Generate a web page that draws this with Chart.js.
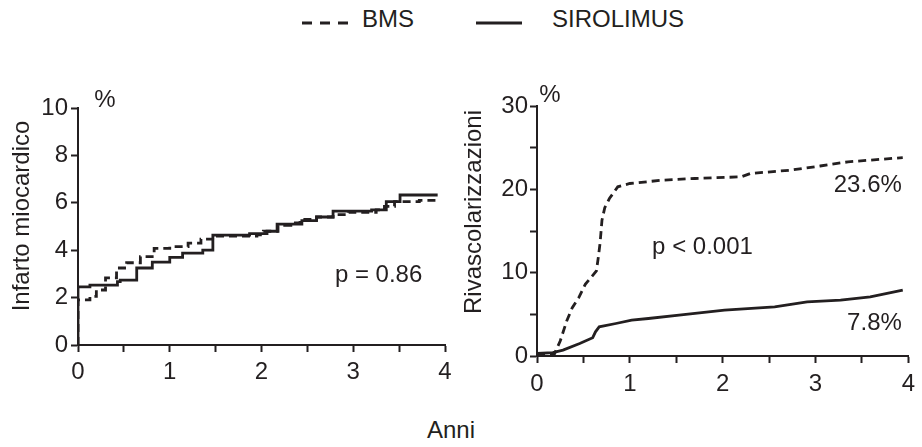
<!DOCTYPE html>
<html>
<head>
<meta charset="utf-8">
<script src="https://cdn.jsdelivr.net/npm/chart.js@4/dist/chart.umd.min.js"></script>
<style>
  html, body { margin: 0; padding: 0; background: #fff; }
  #wrap { position: relative; width: 922px; height: 447px; font-family: "Liberation Sans", Arial, sans-serif; color: #231f20; }
  #wrap canvas { position: absolute; top: 0; }
  .lbl { position: absolute; font-size: 24px; line-height: 24px; white-space: nowrap; }
</style>
</head>
<body>
<div id="wrap">
  <svg width="922" height="40" style="position:absolute;left:0;top:0">
    <line x1="302" y1="23" x2="350" y2="23" stroke="#231f20" stroke-width="3" stroke-dasharray="10 8"/>
    <line x1="476" y1="23" x2="522" y2="23" stroke="#231f20" stroke-width="3"/>
  </svg>
  <span class="lbl" style="left:362px;top:7px">BMS</span>
  <span class="lbl" style="left:552px;top:7px">SIROLIMUS</span>
  <span class="lbl" style="left:427px;top:418px">Anni</span>
  <canvas id="miChart" width="461" height="447" style="left:0"></canvas>
  <canvas id="revChart" width="461" height="447" style="left:461px"></canvas>
</div>
<script>
const INK = '#231f20';
const FONT = { family: '"Liberation Sans", Arial, sans-serif', size: 24 };

// Infarto miocardico (Kaplan-Meier steps: value holds from x onward)
const miBmsX = [0, 0, 0.13, 0.2, 0.3, 0.42, 0.53, 0.68, 0.83, 1.0, 1.2, 1.34, 1.49, 1.95, 2.02, 2.18, 2.32, 2.42, 2.6, 2.78, 2.95, 3.25, 3.34, 3.45, 3.72, 3.93];
const miBmsY = [0, 1.9, 2.05, 2.32, 2.83, 3.25, 3.47, 3.73, 4.08, 4.15, 4.3, 4.47, 4.6, 4.65, 4.8, 5.05, 5.15, 5.3, 5.4, 5.5, 5.6, 5.7, 5.85, 6.05, 6.1, 6.1];
const miSirX = [0, 0, 0.13, 0.43, 0.46, 0.64, 0.81, 1.0, 1.14, 1.36, 1.47, 1.87, 2.06, 2.17, 2.44, 2.6, 2.78, 3.2, 3.36, 3.51, 3.92];
const miSirY = [0, 2.45, 2.53, 2.67, 2.74, 3.25, 3.5, 3.7, 3.88, 4.0, 4.64, 4.7, 4.8, 5.1, 5.25, 5.4, 5.65, 5.7, 6.05, 6.33, 6.33];

// Rivascolarizzazioni
const revBmsX = [0, 0.19, 0.25, 0.32, 0.38, 0.45, 0.52, 0.58, 0.64, 0.66, 0.68, 0.7, 0.73, 0.78, 0.87, 1.0, 1.35, 1.7, 2.2, 2.3, 2.73, 3.05, 3.35, 3.7, 3.94];
const revBmsY = [0.3, 0.3, 1.8, 4.2, 5.8, 7.0, 8.6, 9.4, 10.2, 11.8, 13.6, 16.3, 17.8, 18.9, 20.3, 20.7, 21.1, 21.3, 21.5, 21.9, 22.3, 22.8, 23.3, 23.6, 23.8];
const revSirX = [0, 0.17, 0.28, 0.46, 0.6, 0.63, 0.67, 0.85, 1.02, 1.2, 1.53, 2.02, 2.56, 2.91, 3.27, 3.59, 3.94];
const revSirY = [0.3, 0.4, 0.7, 1.5, 2.2, 2.9, 3.5, 3.9, 4.3, 4.5, 4.9, 5.5, 5.9, 6.5, 6.7, 7.1, 7.9];

const pts = (xs, ys) => xs.map((x, i) => ({ x: x, y: ys[i] }));

// text drawn on top of each panel
const notesPlugin = {
  id: 'notes',
  afterDraw(chart, args, opts) {
    const ctx = chart.ctx, area = chart.chartArea;
    const xs = chart.scales.x, ys = chart.scales.y;
    ctx.save();
    ctx.fillStyle = INK;
    ctx.font = '24px ' + FONT.family;
    ctx.textBaseline = 'middle';
    ctx.textAlign = 'center';
    ctx.fillText('%', area.left + opts.pctDx, area.top - opts.pctDy);
    ctx.save();
    ctx.translate(opts.titleX, opts.titleY);
    ctx.rotate(-Math.PI / 2);
    ctx.fillText(opts.title, 0, 0);
    ctx.restore();
    opts.items.forEach(n => {
      ctx.textAlign = n.align;
      ctx.fillText(n.text, xs.getPixelForValue(n.x), ys.getPixelForValue(n.y));
    });
    ctx.restore();
  }
};

function xAxis(pad) {
  return {
    type: 'linear', min: 0, max: 4,
    ticks: {
      stepSize: 0.5, autoSkip: false, maxRotation: 0, padding: pad, color: INK, font: FONT,
      callback: v => Number.isInteger(v) ? v : ''
    },
    grid: { drawOnChartArea: false, tickLength: 7, tickWidth: 2, tickColor: INK },
    border: { color: INK, width: 2 },
    afterFit: s => { s.height = 50; }
  };
}

function yAxis(max, step, every, w, pad) {
  return {
    min: 0, max: max,
    ticks: {
      stepSize: step, autoSkip: false, padding: pad, color: INK, font: FONT,
      callback: v => v % every === 0 ? v : ''
    },
    grid: { drawOnChartArea: false, tickLength: 7, tickWidth: 2, tickColor: INK },
    border: { color: INK, width: 2 },
    afterFit: s => { s.width = w; }
  };
}

function line(label, data, dashed, stepped) {
  return {
    label: label, data: data,
    borderColor: INK, borderWidth: 2.8,
    borderDash: dashed ? [8, 5] : [],
    stepped: stepped, tension: 0,
    pointRadius: 0, fill: false
  };
}

new Chart(document.getElementById('miChart'), {
  type: 'line',
  data: {
    datasets: [
      line('BMS', pts(miBmsX, miBmsY), true, true),
      line('SIROLIMUS', pts(miSirX, miSirY), false, true)
    ]
  },
  options: {
    responsive: false, animation: false,
    layout: { padding: { left: 0, top: 108, right: 16, bottom: 52 } },
    plugins: {
      legend: { display: false }, tooltip: { enabled: false },
      notes: {
        title: 'Infarto miocardico', titleX: 22, titleY: 216, pctDx: 27, pctDy: 8,
        items: [{ text: 'p = 0.86', x: 2.8, y: 2.95, align: 'left' }]
      }
    },
    scales: { x: xAxis(6), y: yAxis(10, 2, 2, 78, 3) }
  },
  plugins: [notesPlugin]
});

new Chart(document.getElementById('revChart'), {
  type: 'line',
  data: {
    datasets: [
      line('BMS', pts(revBmsX, revBmsY), true, false),
      line('SIROLIMUS', pts(revSirX, revSirY), false, false)
    ]
  },
  options: {
    responsive: false, animation: false,
    layout: { padding: { left: 0, top: 106, right: 11, bottom: 41 } },
    plugins: {
      legend: { display: false }, tooltip: { enabled: false },
      notes: {
        title: 'Rivascolarizzazioni', titleX: 13, titleY: 212, pctDx: 13, pctDy: 11,
        items: [
          { text: 'p < 0.001', x: 1.24, y: 13.0, align: 'left' },
          { text: '23.6%', x: 3.93, y: 20.5, align: 'right' },
          { text: '7.8%', x: 3.93, y: 3.96, align: 'right' }
        ]
      }
    },
    scales: { x: xAxis(7), y: yAxis(30, 5, 10, 76, 2) }
  },
  plugins: [notesPlugin]
});
</script>
</body>
</html>
